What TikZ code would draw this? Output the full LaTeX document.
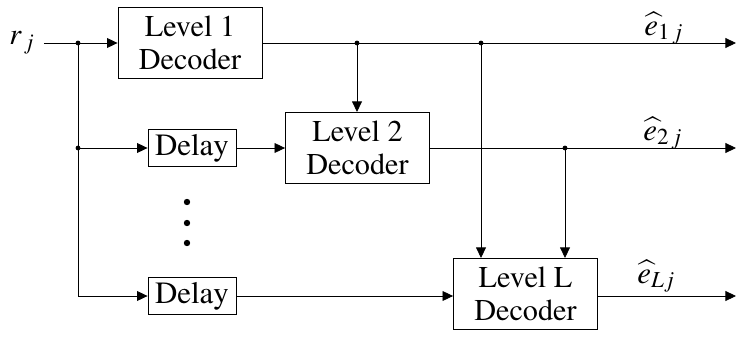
\documentclass[tikz,border=0pt]{standalone}
\usepackage[T1]{fontenc}
\usepackage{mathptmx}
\usetikzlibrary{arrows.meta}
\begin{document}
\begin{tikzpicture}[x=0.25cm,y=-0.25cm,line width=0.6pt,
        >={Triangle[length=7.5pt,width=7pt]},
        decoder/.style={draw,align=center,minimum width=3.6cm,minimum height=1.78cm,
                        inner sep=0pt,font=\fontsize{21.5}{23.5}\selectfont},
        delaybox/.style={draw,minimum width=2.2cm,minimum height=0.92cm,
                         inner sep=0pt,font=\fontsize{22}{23.5}\selectfont},
        lbl/.style={anchor=base west,inner sep=0pt,font=\fontsize{22}{23.5}\selectfont}]
                   \useasboundingbox (0,0) rectangle (73.6,33.6);

                   \node[inner sep=0.22cm,font=\fontsize{21.5}{23.5}\selectfont] (rj) at (2.2,4.3) {$r_{\,j}$};
                   \node[decoder] (l1) at (19,4.3) {Level 1\\Decoder};
                   \node[delaybox] (d1) at (19.2,14.8) {Delay};
                   \node[decoder] (l2) at (35.75,14.8) {Level 2\\Decoder};
                   \node[delaybox] (d2) at (19.2,29.6) {Delay};
                   \node[decoder] (lL) at (52.55,29.4) {Level L\\Decoder};

                   \coordinate (s1) at (7.8,4.3);
                   \coordinate (s2) at (7.8,14.8);
                   \coordinate (o1) at (35.7,4.3);
                   \coordinate (o2) at (48.1,4.3);
                   \coordinate (o3) at (56.5,14.8);
                   \coordinate (e1) at (73.6,4.3);
                   \coordinate (e2) at (73.6,14.8);
                   \coordinate (eL) at (73.6,29.6);

                   \draw[->] (rj) -- (l1);
                   \draw[->] (s1) |- (d2);
                   \draw[->] (s2) -- (d1);
                   \draw[->] (d1) -- (l2);
                   \draw[->] (d2) -- (d2 -| lL.west);
                   \draw[->] (l1) -- (e1);
                   \draw[->] (l2) -- (e2);
                   \draw[->] (lL.east |- eL) -- (eL);
                   \draw[->] (o1) -- (o1 |- l2.north);
                   \draw[->] (o2) -- (o2 |- lL.north);
                   \draw[->] (o3) -- (o3 |- lL.north);

                   \node[lbl] (h1) at (64.4,3.5) {$\widehat{e}_{1\,j}$};
                   \node[lbl] (h2) at (64.3,14.0) {$\widehat{e}_{2\,j}$};
                   \node[lbl] (hL) at (63.7,28.3) {$\widehat{e}_{Lj}$};

                   \foreach \p in {s1,s2,o1,o2,o3} \fill (\p) circle (0.06cm);
                   \foreach \y in {20.2,22.3,24.3} \fill (18.7,\y) circle (0.08cm);
        \end{tikzpicture}
\end{document}
